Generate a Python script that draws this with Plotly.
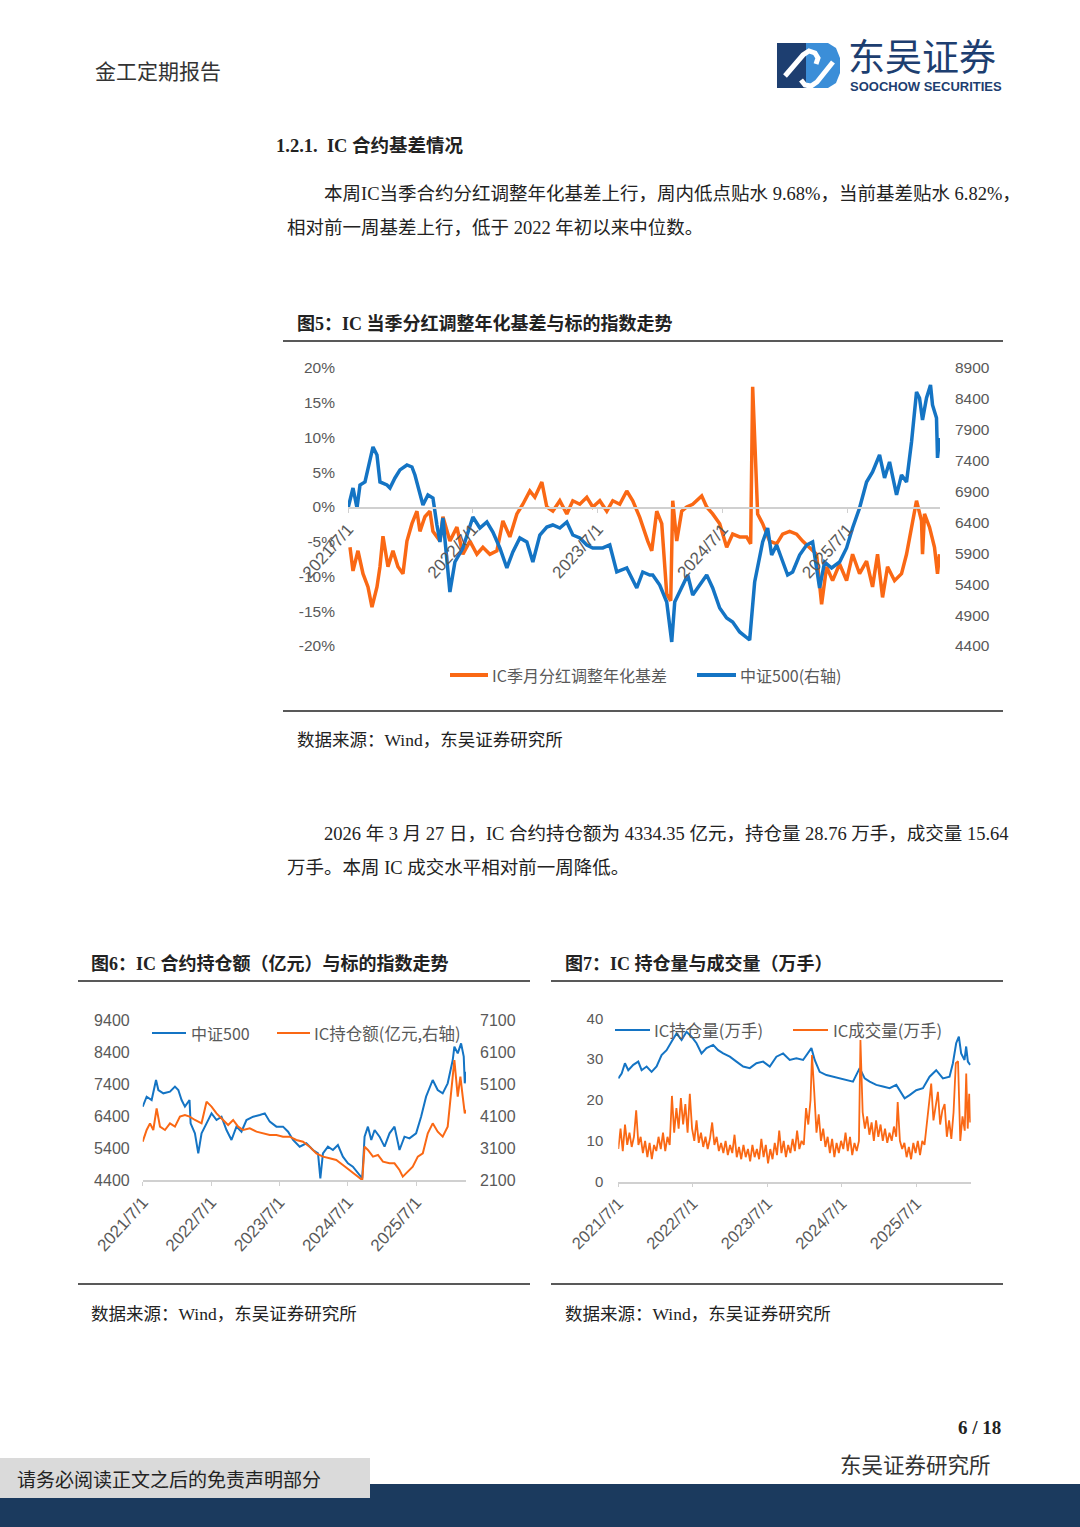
import plotly.graph_objects as go

# ---------------- data ----------------
YEAR_TICKS = [2021.5, 2022.5, 2023.5, 2024.5, 2025.5]
YEAR_LABELS = ["2021/7/1", "2022/7/1", "2023/7/1", "2024/7/1", "2025/7/1"]

# Fig5: CSI500 index (right axis)
t5_idx = [2021.500,2021.540,2021.572,2021.596,2021.636,2021.660,2021.700,2021.732,2021.756,2021.812,2021.836,2021.876,2021.916,2021.972,
          2022.012,2022.036,2022.076,2022.100,2022.140,2022.180,2022.212,2022.236,2022.260,2022.316,2022.356,2022.420,2022.500,2022.556,2022.612,2022.660,2022.716,2022.772,2022.820,2022.876,2022.932,2022.980,
          2023.036,2023.092,2023.140,2023.196,2023.252,2023.300,2023.356,2023.412,2023.460,2023.540,2023.596,2023.652,2023.732,2023.812,2023.860,2023.916,2023.940,2023.996,
          2024.052,2024.092,2024.116,2024.180,2024.220,2024.260,2024.316,2024.372,2024.420,2024.476,2024.532,2024.580,2024.636,2024.692,2024.716,2024.756,2024.780,2024.820,2024.860,2024.892,2024.932,2024.980,
          2025.020,2025.060,2025.116,2025.172,2025.220,2025.276,2025.316,2025.372,2025.436,2025.492,2025.540,2025.596,2025.652,2025.700,2025.756,2025.796,2025.836,2025.892,2025.932,2025.972,
          2026.012,2026.052,2026.076,2026.100,2026.132,2026.164,2026.180,2026.212,2026.220,2026.236]
csi500_5 = [6630,6958,6634,7006,7055,7282,7622,7492,7055,7006,6958,7120,7250,7330,7298,7169,6893,6682,6845,6796,6359,6084,6472,5274,5760,5987,6488,6310,6407,6245,
            5987,5663,5922,6149,6084,5760,6197,6326,6359,6310,6407,6197,6149,6035,5987,5987,6035,5598,5663,5339,5598,5549,5549,5387,5112,4465,5112,5387,5549,5226,
            5387,5549,5339,5015,4853,4789,4627,4530,4497,5436,5663,6084,6310,5873,6035,5760,5549,5598,5873,6035,6084,5339,5760,5663,5760,5987,6310,6634,7055,7217,
            7492,7120,7379,6845,7169,7055,7703,8512,8415,8059,8415,8625,8302,8091,7444,7768]

# Fig5: IC dividend-adjusted annualized basis (%)
t5_basis = [2021.516,2021.540,2021.580,2021.620,2021.660,2021.692,2021.732,2021.756,2021.780,2021.820,2021.860,2021.900,2021.940,2021.972,
            2022.012,2022.052,2022.076,2022.116,2022.156,2022.180,2022.236,2022.260,2022.316,2022.372,2022.420,2022.476,2022.532,2022.580,2022.636,2022.692,2022.740,2022.796,2022.852,2022.900,2022.956,2022.996,
            2023.052,2023.092,2023.140,2023.196,2023.252,2023.300,2023.356,2023.412,2023.460,2023.516,2023.572,2023.620,2023.676,2023.732,2023.780,2023.836,2023.900,2023.932,2023.972,
            2024.012,2024.052,2024.084,2024.100,2024.132,2024.172,2024.212,2024.260,2024.332,2024.372,2024.420,2024.476,2024.532,2024.580,2024.636,2024.692,2024.724,2024.740,2024.764,2024.780,2024.820,2024.876,2024.932,2024.980,
            2025.036,2025.092,2025.140,2025.196,2025.252,2025.292,2025.332,2025.380,2025.436,2025.492,2025.540,2025.596,2025.652,2025.700,2025.740,2025.780,2025.820,2025.876,2025.932,2025.972,
            2026.012,2026.052,2026.092,2026.100,2026.116,2026.156,2026.196,2026.220,2026.236]
basis5 = [-5.8,-9.2,-6.3,-9.6,-11.5,-14.4,-11.5,-8.6,-4.2,-8.6,-6.3,-8.6,-9.6,-4.9,-2.4,-0.6,-3.5,-1.4,-0.6,-3.5,
          -4.9,-1.4,-4.9,-2.9,-6.8,-4.9,-6.8,-5.8,-6.8,-6.3,-2.0,-4.3,-1.0,0.4,2.3,1.4,3.6,0.0,-0.6,0.9,
          -1.0,0.9,0.4,1.4,0.0,0.9,-0.6,0.9,0.4,2.3,0.9,-1.5,-4.9,-6.3,-0.6,-2.4,-12.5,-13.5,0.9,-4.9,
          -0.6,0.0,0.4,1.6,0.0,-1.0,-2.4,-5.8,-3.9,-4.3,-4.3,-5.3,17.3,5.2,-1.0,-2.4,-4.9,-5.3,-3.9,-3.5,
          -3.9,-4.9,-5.8,-6.8,-14.0,-8.6,-10.6,-8.2,-10.6,-6.8,-9.6,-7.8,-11.5,-6.8,-13.0,-8.6,-10.6,-9.6,-6.8,-2.9,
          0.9,-2.0,-6.8,-1.0,-2.9,-5.8,-9.6,-6.8]

# Fig6: CSI500 (left) and IC open-interest value (right, 亿元)
t6_idx = [2021.500,2021.558,2021.631,2021.695,2021.729,2021.802,2021.899,2021.972,2022.021,2022.069,2022.118,2022.185,2022.201,2022.264,2022.313,2022.361,2022.434,2022.507,2022.580,2022.653,
          2022.726,2022.799,2022.872,2022.945,2023.018,2023.116,2023.213,2023.286,2023.359,2023.456,2023.553,2023.627,2023.700,2023.797,2023.894,2023.991,2024.065,2024.099,2024.137,2024.210,
          2024.283,2024.356,2024.429,2024.503,2024.575,2024.649,2024.712,2024.746,2024.795,2024.844,2024.893,2024.965,2025.038,2025.111,2025.184,2025.257,2025.330,2025.403,2025.500,2025.573,
          2025.646,2025.743,2025.816,2025.889,2025.962,2026.036,2026.060,2026.109,2026.158,2026.197,2026.212,2026.231]
csi500_6 = [6692,7004,6900,7525,7212,7108,7160,7317,7212,6900,6692,6900,6171,5858,5233,5858,6171,6483,6275,6379,
            5962,5650,6067,5910,6275,6379,6431,6483,6223,6067,6067,5910,5650,5442,5546,5338,5233,4452,5233,5442,
            5338,5494,5129,4921,4817,4608,4452,5754,6067,5650,5962,5754,5442,5858,6067,5338,5754,5702,5858,6379,
            7004,7525,7212,7108,7421,8150,8567,8358,8671,8254,7421,7785]
t6_oi = [2021.500,2021.558,2021.607,2021.655,2021.704,2021.753,2021.826,2021.899,2021.972,2022.045,2022.118,2022.187,2022.264,2022.361,2022.434,2022.507,2022.580,2022.677,2022.750,2022.823,
         2022.896,2022.970,2023.067,2023.164,2023.262,2023.359,2023.456,2023.553,2023.650,2023.748,2023.845,2023.942,2024.040,2024.137,2024.234,2024.332,2024.429,2024.527,2024.625,2024.712,
         2024.746,2024.795,2024.869,2024.942,2025.015,2025.111,2025.184,2025.257,2025.305,2025.378,2025.451,2025.525,2025.598,2025.671,2025.743,2025.816,2025.889,2025.962,2026.011,2026.060,
         2026.109,2026.148,2026.182,2026.212,2026.231]
oi_value6 = [3298,3663,3871,3663,4340,3767,3663,3871,3767,4079,4131,4079,3975,3871,4548,4392,4183,3975,3819,3975,
             3767,3663,3715,3610,3558,3506,3506,3454,3454,3350,3298,3142,2933,2829,2777,2725,2569,2413,2256,2100,
             3142,3038,2829,2881,2673,2621,2621,2413,2204,2360,2517,2829,2933,3558,3871,3610,3454,3767,4913,5850,
             4704,5329,4704,4183,4288]

# Fig7: IC open interest and volume (万手)
t7_oi = [2021.500,2021.545,2021.589,2021.634,2021.701,2021.768,2021.813,2021.880,2021.947,2022.014,2022.081,2022.148,2022.216,2022.282,2022.349,2022.416,2022.483,2022.550,2022.617,2022.684,
         2022.773,2022.840,2022.908,2022.997,2023.086,2023.176,2023.265,2023.354,2023.444,2023.533,2023.622,2023.712,2023.801,2023.890,2023.980,2024.047,2024.092,2024.136,2024.203,2024.293,
         2024.382,2024.471,2024.561,2024.650,2024.740,2024.807,2024.874,2024.963,2025.052,2025.142,2025.231,2025.298,2025.343,2025.410,2025.499,2025.589,2025.678,2025.767,2025.857,2025.946,
         2025.991,2026.035,2026.071,2026.102,2026.147,2026.169,2026.192,2026.223]
oi7 = [25.3,26.5,29.0,27.3,28.6,29.4,27.3,28.2,26.9,28.2,31.0,32.2,34.3,36.3,34.7,36.7,35.5,33.9,31.4,32.7,
       33.5,32.2,31.4,30.6,29.4,28.2,27.8,29.0,29.4,28.2,30.6,31.4,29.8,30.2,29.8,31.4,32.7,29.8,26.9,26.1,
       25.7,25.3,24.9,24.5,27.8,25.3,24.5,23.7,23.3,22.9,23.7,21.6,20.4,21.2,22.4,22.9,25.7,27.3,25.3,25.7,
       29.0,33.9,35.5,31.4,29.8,33.1,29.4,28.6]
t7_vol = [2021.50,2021.53,2021.56,2021.59,2021.62,2021.65,2021.68,2021.71,2021.74,2021.77,2021.80,2021.83,2021.86,2021.89,2021.92,2021.95,2021.98,
          2022.01,2022.04,2022.07,2022.10,2022.13,2022.16,2022.19,2022.22,2022.25,2022.28,2022.31,2022.34,2022.37,2022.40,2022.43,2022.46,2022.49,2022.52,
          2022.55,2022.58,2022.61,2022.64,2022.67,2022.70,2022.73,2022.76,2022.79,2022.82,2022.85,2022.88,2022.91,2022.94,2022.97,
          2023.00,2023.03,2023.06,2023.09,2023.12,2023.15,2023.18,2023.21,2023.24,2023.27,2023.30,2023.33,2023.36,2023.39,2023.42,2023.45,2023.48,
          2023.51,2023.54,2023.57,2023.60,2023.63,2023.66,2023.69,2023.72,2023.75,2023.78,2023.81,2023.84,2023.87,2023.90,2023.93,2023.96,2023.99,
          2024.02,2024.05,2024.08,2024.10,2024.13,2024.16,2024.19,2024.22,2024.25,2024.28,2024.31,2024.34,2024.37,2024.40,2024.43,2024.46,2024.49,
          2024.52,2024.55,2024.58,2024.61,2024.64,2024.67,2024.70,2024.73,2024.75,2024.78,2024.81,2024.84,2024.87,2024.90,2024.93,2024.96,2024.99,
          2025.02,2025.05,2025.08,2025.11,2025.14,2025.17,2025.20,2025.23,2025.25,2025.28,2025.31,2025.34,2025.37,2025.40,2025.43,2025.46,2025.49,
          2025.52,2025.55,2025.58,2025.61,2025.64,2025.67,2025.70,2025.73,2025.76,2025.79,2025.82,2025.85,2025.88,2025.91,2025.94,2025.97,
          2026.00,2026.03,2026.06,2026.09,2026.12,2026.15,2026.17,2026.19,2026.21,2026.223]
vol7 = [8,13,7.5,14,9,12,8.5,11,17.5,9,11,7,10,6,9.5,5.5,9,
        7.5,11,8,12,7.5,11,9,21,12,18,13,20.5,14,19,12,21.5,13,10,
        15,9.5,12,8.5,11,8,10.5,14.5,9,11,7.5,9.5,7,10,6.5,
        9,7,11.5,6,8.5,5.5,9,6,8,5,9,6,8,5.5,10.5,6,9,
        4.5,8,5.5,9.5,6.5,12.5,7,10,6,9,7,10.5,7.5,12.5,8,10,9,
        18,14,20,31,22,12,16.5,10,13,8.5,11,7,10.5,6,9.5,7,10,
        8,12,7.5,11,6.5,9.5,7.5,10,34.7,17,13,16,11.5,14.5,10,15,11,
        14,10,13,9.5,12,10,13.5,11,19.5,10,8,9.5,6,8.5,5.5,9.5,7,
        10,6.5,10,9,14,18,24,15,19,22,14,17.5,19,11,15,10.5,
        17,29,29.5,10,16,12.5,26.5,13,21.5,14.5]

Y5_LEFT = [-20, -15, -10, -5, 0, 5, 10, 15, 20]
Y5_LEFT_TXT = ["-20%", "-15%", "-10%", "-5%", "0%", "5%", "10%", "15%", "20%"]
Y5_RIGHT = [4400, 4900, 5400, 5900, 6400, 6900, 7400, 7900, 8400, 8900]
Y6_LEFT = [4400, 5400, 6400, 7400, 8400, 9400]
Y6_RIGHT = [2100, 3100, 4100, 5100, 6100, 7100]
Y7_LEFT = [0, 10, 20, 30, 40]

# ---------------- styling ----------------
W, H = 1080, 1527
BLUE = "#1474C4"
ORANGE = "#FA6814"
GRAY_TXT = "#595959"
AXIS_GRAY = "#d0d0d0"
NAVY = "#1d3e70"
SERIF = "Liberation Serif, Noto Sans CJK SC, serif"
SANS = "Liberation Sans, Arial, Noto Sans CJK SC, sans-serif"
CJK = "Noto Sans CJK SC, sans-serif"


def px(x):
    return x / W


def py(y):
    return 1 - y / H


fig = go.Figure()
fig.add_trace(go.Scatter(x=t5_basis, y=basis5, xaxis="x", yaxis="y", mode="lines",
                         line=dict(color=ORANGE, width=3.5)))
fig.add_trace(go.Scatter(x=t5_idx, y=csi500_5, xaxis="x", yaxis="y2", mode="lines",
                         line=dict(color=BLUE, width=3.5)))
fig.add_trace(go.Scatter(x=t6_idx, y=csi500_6, xaxis="x2", yaxis="y3", mode="lines",
                         line=dict(color=BLUE, width=2)))
fig.add_trace(go.Scatter(x=t6_oi, y=oi_value6, xaxis="x2", yaxis="y4", mode="lines",
                         line=dict(color=ORANGE, width=2)))
fig.add_trace(go.Scatter(x=t7_oi, y=oi7, xaxis="x3", yaxis="y5", mode="lines",
                         line=dict(color=BLUE, width=2)))
fig.add_trace(go.Scatter(x=t7_vol, y=vol7, xaxis="x3", yaxis="y5", mode="lines",
                         line=dict(color=ORANGE, width=1.8)))

xcommon = dict(tickvals=YEAR_TICKS, ticktext=YEAR_LABELS, showgrid=False, zeroline=False,
               showline=True, linecolor=AXIS_GRAY, linewidth=1.5, ticks="outside", ticklen=4,
               tickcolor=AXIS_GRAY, fixedrange=True, automargin=False)
ycommon = dict(showgrid=False, zeroline=False, showline=False, ticks="", fixedrange=True, automargin=False)

fig.update_layout(
    width=W, height=H, margin=dict(l=0, r=0, t=0, b=0, pad=0, autoexpand=False),
    paper_bgcolor="white", plot_bgcolor="rgba(0,0,0,0)", showlegend=False,
    xaxis=dict(domain=[px(348), px(940)], range=[2021.5, 2026.24], anchor="free", position=py(508),
               tickangle=-48, tickfont=dict(family=SANS, size=17, color=GRAY_TXT), **xcommon),
    yaxis=dict(domain=[py(646), py(368)], range=[-20, 20], anchor="x", tickvals=Y5_LEFT,
               ticktext=Y5_LEFT_TXT, ticklabelstandoff=12,
               tickfont=dict(family=SANS, size=15.5, color=GRAY_TXT), **ycommon),
    yaxis2=dict(range=[4400, 8900], overlaying="y", side="right", anchor="x", tickvals=Y5_RIGHT,
                ticklabelstandoff=14, tickfont=dict(family=SANS, size=15.5, color=GRAY_TXT), **ycommon),
    xaxis2=dict(domain=[px(142.7), px(466)], range=[2021.5, 2026.23], anchor="y3",
                tickangle=-48, tickfont=dict(family=SANS, size=17, color=GRAY_TXT), **xcommon),
    yaxis3=dict(domain=[py(1180), py(1020)], range=[4400, 9400], anchor="x2", tickvals=Y6_LEFT,
                ticklabelstandoff=12, tickfont=dict(family=SANS, size=16, color=GRAY_TXT), **ycommon),
    yaxis4=dict(range=[2100, 7100], overlaying="y3", side="right", anchor="x2", tickvals=Y6_RIGHT,
                ticklabelstandoff=13, tickfont=dict(family=SANS, size=16, color=GRAY_TXT), **ycommon),
    xaxis3=dict(domain=[px(618.3), px(970.7)], range=[2021.5, 2026.23], anchor="y5",
                tickangle=-45, tickfont=dict(family=SANS, size=16.5, color=GRAY_TXT), **xcommon),
    yaxis5=dict(domain=[py(1181.7), py(1018.3)], range=[0, 40], anchor="x3", tickvals=Y7_LEFT,
                ticklabelstandoff=14, tickfont=dict(family=SANS, size=15, color=GRAY_TXT), **ycommon),
)

shapes = []
ann = []


def hline(x0, x1, y, color="#222222", width=1.5):
    shapes.append(dict(type="line", xref="paper", yref="paper", x0=px(x0), x1=px(x1), y0=py(y), y1=py(y),
                       line=dict(color=color, width=width)))


def rect(x0, y0, x1, y1, fill, layer="above"):
    shapes.append(dict(type="rect", xref="paper", yref="paper", x0=px(x0), x1=px(x1), y0=py(y1), y1=py(y0),
                       fillcolor=fill, line=dict(width=0), layer=layer))


def text(x, y, s, size, color="#222222", family=SERIF, anchor="left"):
    ann.append(dict(x=px(x), y=py(y), xref="paper", yref="paper", text=s, showarrow=False,
                    xanchor=anchor, yanchor="middle", font=dict(family=family, size=size, color=color)))


def path(points, fill=None, color=None, width=0, closed=True):
    d = "M" + " L".join(f"{px(a):.5f},{py(b):.5f}" for a, b in points)
    if closed:
        d += " Z"
    shapes.append(dict(type="path", xref="paper", yref="paper", path=d,
                       fillcolor=fill if fill else "rgba(0,0,0,0)",
                       line=dict(color=color if color else "rgba(0,0,0,0)", width=width)))


NB = "\u00a0"

# ---- header ----
text(93, 70, "金工定期报告", 21, "#333333", CJK)
# logo icon
path([(777, 43), (816, 43), (816, 88), (777, 88)], fill=NAVY)
path([(806, 43), (828, 43), (836, 48), (840, 58), (840, 73), (836, 83), (828, 88), (806, 88)], fill="#3b8ed8")
path([(785, 76), (803, 55), (809, 51), (815, 53), (818, 58), (816, 64)], color="white", width=5, closed=False)
path([(801, 80), (805, 85), (811, 86), (817, 82), (833, 62)], color="white", width=5, closed=False)
text(846, 55, "东吴证券", 37, NAVY, CJK)
text(848, 86.5, "<b>SOOCHOW SECURITIES</b>", 13, NAVY, "Liberation Sans, Arial, sans-serif")

# ---- section heading & paragraph 1 ----
text(274, 146, f"<b>1.2.1.{NB}{NB}IC 合约基差情况</b>", 18.5, "#222222")
text(322, 194, "本周IC当季合约分红调整年化基差上行，周内低点贴水 9.68%，当前基差贴水 6.82%，", 18.5)
text(285, 228, "相对前一周基差上行，低于 2022 年初以来中位数。", 18.5)

# ---- figure 5 frame ----
text(295, 324, "<b>图5：IC 当季分红调整年化基差与标的指数走势</b>", 18, "#222222")
hline(283, 1003, 341)
hline(283, 1003, 711)
text(295, 740, "数据来源：Wind，东吴证券研究所", 17.5, "#222222")
# legend fig5
hline(450, 488, 675, ORANGE, 4)
text(490, 675, "IC季月分红调整年化基差", 16, GRAY_TXT, CJK)
hline(697, 736, 675, BLUE, 4)
text(738, 675, "中证500(右轴)", 16, GRAY_TXT, CJK)

# ---- paragraph 2 ----
text(322, 834, "2026 年 3 月 27 日，IC 合约持仓额为 4334.35 亿元，持仓量 28.76 万手，成交量 15.64", 18.5)
text(285, 868, "万手。本周 IC 成交水平相对前一周降低。", 18.5)

# ---- figure 6 frame ----
text(89, 964, "<b>图6：IC 合约持仓额（亿元）与标的指数走势</b>", 18, "#222222")
hline(78, 530, 981)
hline(78, 530, 1284)
text(89, 1314, "数据来源：Wind，东吴证券研究所", 17.5, "#222222")
hline(152, 186, 1033, BLUE, 2)
text(189, 1033, "中证500", 16, GRAY_TXT, CJK)
hline(277, 310, 1033, ORANGE, 2)
text(312, 1033, "IC持仓额(亿元,右轴)", 16.5, GRAY_TXT, CJK)

# ---- figure 7 frame ----
text(563, 964, "<b>图7：IC 持仓量与成交量（万手）</b>", 18, "#222222")
hline(551, 1003, 981)
hline(551, 1003, 1284)
text(563, 1314, "数据来源：Wind，东吴证券研究所", 17.5, "#222222")
hline(615, 650, 1030, BLUE, 2)
text(652, 1030, "IC持仓量(万手)", 16.5, GRAY_TXT, CJK)
hline(793, 828, 1030, ORANGE, 2)
text(831, 1030, "IC成交量(万手)", 16.5, GRAY_TXT, CJK)

# ---- footer ----
text(1003, 1427, "<b>6 / 18</b>", 19, "#222222", anchor="right")
text(838, 1463, "东吴证券研究所", 21.5, "#333333", CJK)
rect(0, 1484, 1080, 1527, "#1b3a5e")
rect(0, 1458, 370, 1498, "#dadada")
text(15, 1478, "请务必阅读正文之后的免责声明部分", 19, "#222222", CJK)

fig.update_layout(shapes=shapes, annotations=ann)
fig.write_html("out.html", config={"displayModeBar": False},
               post_script="document.body.style.margin='0';document.body.style.overflow='hidden';")
